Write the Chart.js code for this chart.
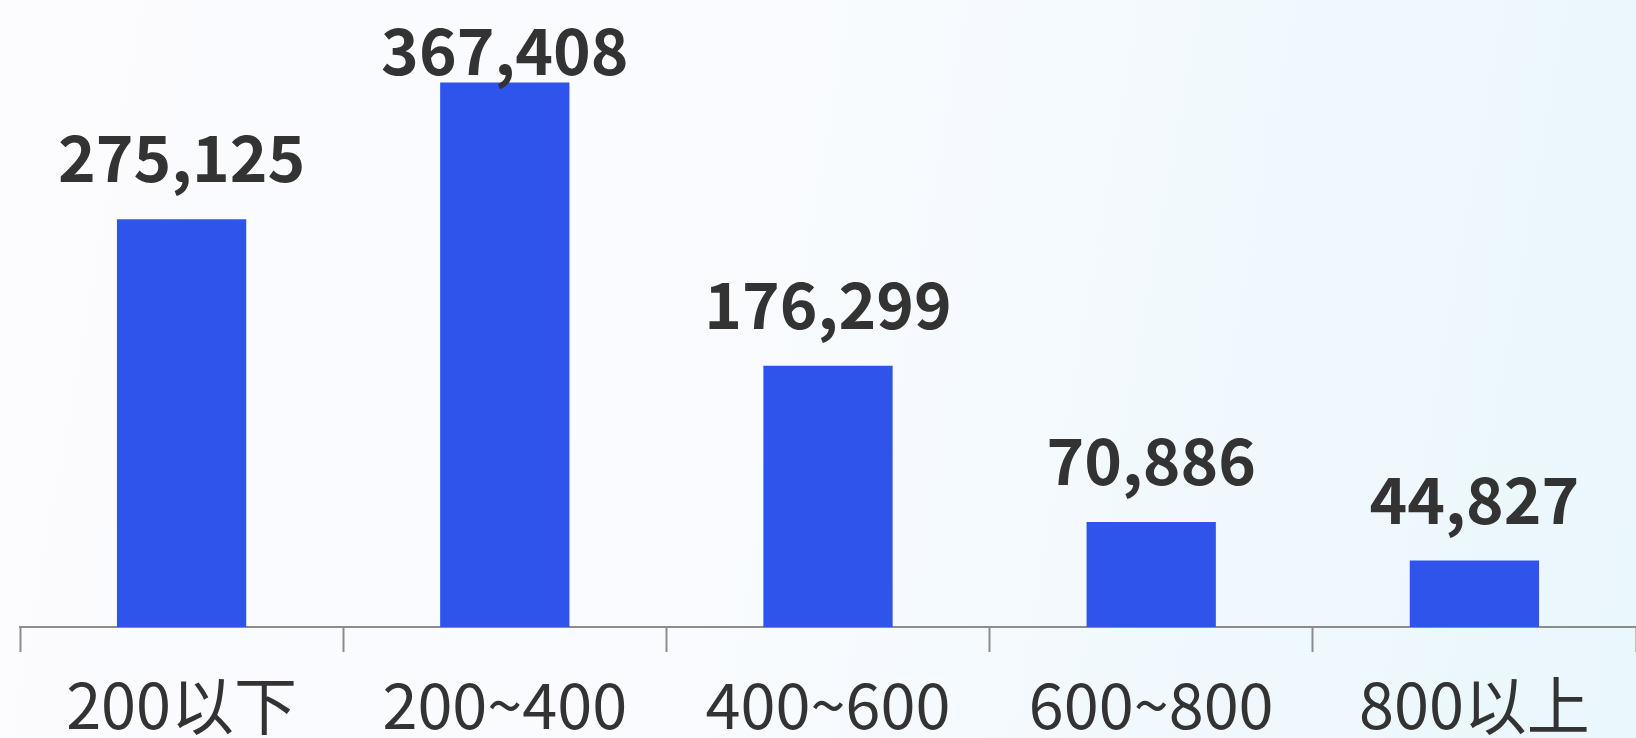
<!DOCTYPE html>
<html>
<head>
<meta charset="utf-8">
<script src="https://cdn.jsdelivr.net/npm/chart.js@4"></script>
<style>
  html, body { margin: 0; padding: 0; }
  body {
    width: 1636px; height: 738px; overflow: hidden;
    background: linear-gradient(100deg, #fcfcff 0%, #f9fbfe 45%, #eff8fd 80%, #eaf7fc 100%);
  }
  #price-chart { display: block; }
</style>
</head>
<body>
<canvas id="price-chart" width="1636" height="738"></canvas>
<script>
// 价格区间分布
const priceRanges = ['200以下', '200~400', '400~600', '600~800', '800以上'];
const rangeCounts = [275125, 367408, 176299, 70886, 44827];

const BAR_COLOR = '#2f54eb';
const TEXT_COLOR = '#333333';
const AXIS_COLOR = '#8c8c8c';

/* --------- 柱顶数值 --------- */
const valueLabels = {
  id: 'valueLabels',
  afterDatasetsDraw(chart) {
    const { ctx, chartArea } = chart;
    const meta = chart.getDatasetMeta(0);
    ctx.save();
    ctx.font = 'bold 64px "Noto Sans CJK SC", "Noto Sans", sans-serif';
    ctx.fillStyle = TEXT_COLOR;
    ctx.textAlign = 'center';
    ctx.textBaseline = 'alphabetic';
    meta.data.forEach((bar, i) => {
      const text = rangeCounts[i].toLocaleString('en-US');
      // 太高的柱子：文字贴住顶部，不出画布
      const y = Math.max(bar.y - 37, chartArea.top + 75);
      ctx.fillText(text, bar.x, y);
    });
    ctx.restore();
  }
};

const ctx = document.getElementById('price-chart').getContext('2d');
new Chart(ctx, {
  type: 'bar',
  data: {
    labels: priceRanges,
    datasets: [{
      data: rangeCounts,
      backgroundColor: BAR_COLOR,
      borderWidth: 0,
      categoryPercentage: 1,
      barPercentage: 0.4
    }]
  },
  options: {
    responsive: false,
    animation: false,
    devicePixelRatio: 1,
    layout: { padding: { left: 20, right: 0, top: 0, bottom: -21 } },
    plugins: {
      legend: { display: false },
      tooltip: { enabled: false }
    },
    scales: {
      x: {
        offset: true,
        grid: {
          offset: true,
          drawOnChartArea: false,
          drawTicks: true,
          tickLength: 25,
          tickWidth: 2,
          tickColor: AXIS_COLOR
        },
        border: { display: true, color: AXIS_COLOR, width: 2 },
        ticks: {
          color: TEXT_COLOR,
          padding: 22,
          maxRotation: 0,
          autoSkip: false,
          font: { family: '"Noto Sans CJK SC", "Noto Sans", sans-serif', size: 63, lineHeight: 1 }
        }
      },
      y: {
        display: false,
        min: 0,
        max: 423000
      }
    }
  },
  plugins: [valueLabels]
});
</script>
</body>
</html>
